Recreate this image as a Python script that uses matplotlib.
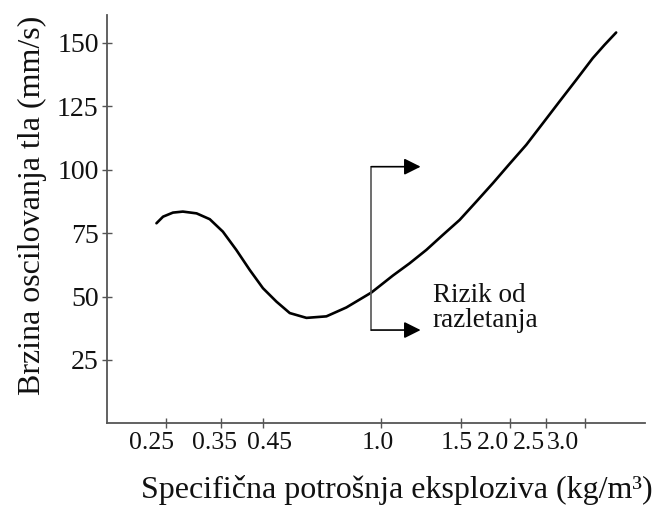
import numpy as np
import matplotlib
matplotlib.use("Agg")
import matplotlib.pyplot as plt
from matplotlib.transforms import ScaledTranslation

# ---- data ----
x_ticks = [0.25, 0.35, 0.45, 1.0, 1.5, 2.0, 2.5, 3.0]
x_tick_labels = ["0.25", "0.35", "0.45", "1.0", "1.5", "2.0", "2.5", "3.0"]
y_ticks = [25, 50, 75, 100, 125, 150]

curve_x = [0.233, 0.245, 0.263, 0.281, 0.306, 0.330, 0.355, 0.387, 0.419,
           0.451, 0.514, 0.576, 0.654, 0.747, 0.840, 0.957, 1.077, 1.181,
           1.286, 1.389, 1.494, 1.660, 1.830, 2.000, 2.229, 2.456, 2.673,
           2.887, 3.100, 3.250, 3.400]
curve_y = [78.9, 81.5, 83.1, 83.5, 82.8, 80.5, 75.6, 68.4, 60.5,
           53.3, 48.0, 43.5, 41.6, 42.2, 45.7, 51.6, 58.3, 63.1,
           68.4, 74.3, 80.2, 87.4, 94.7, 102.3, 109.8, 118.3, 126.9,
           135.4, 144.0, 149.2, 154.1]

bracket_x = 0.957
bracket_top = 101.2
bracket_bottom = 36.8
arrow_end_x = 1.25
annot_text = "Rizik od\nrazletanja"

# ---- non-uniform x axis scale (piecewise, as in the original) ----
scale_vals = np.array([0.0, 0.25, 0.35, 0.45, 1.0, 1.5, 2.0, 2.5, 3.0, 4.0])
scale_pos = np.array([28.5, 166, 221, 263, 381, 461, 510, 546.5, 585.5, 663.5])

def fwd(v):
    return np.interp(v, scale_vals, scale_pos)

def inv(p):
    return np.interp(p, scale_pos, scale_vals)

plt.rcParams['font.family'] = ['Liberation Serif', 'DejaVu Serif']

fig = plt.figure(figsize=(6.6, 5.11), dpi=100)
ax = fig.add_axes([107/660, 1 - 423.4/511, (645 - 107)/660, (423.4 - 15)/511])
ax.set_xscale('function', functions=(fwd, inv))
ax.set_xlim(0.143, 3.77)
ax.set_ylim(0, 161)

ax.plot(curve_x, curve_y, color='black', lw=1.9, solid_capstyle='round',
        solid_joinstyle='round')

# bracket with arrows
gray = '#555555'
ax.plot([bracket_x, bracket_x], [bracket_bottom, bracket_top], color=gray, lw=1.2)
for yy in (bracket_top, bracket_bottom):
    ax.annotate('', xy=(arrow_end_x, yy), xytext=(bracket_x, yy),
                arrowprops=dict(arrowstyle='-|>,head_length=1.0,head_width=0.5',
                                color='black', lw=1.2, shrinkA=0, shrinkB=0))
ax.text(1.325, 45.5, annot_text, fontsize=19.5, va='center', ha='left',
        linespacing=1.05, color='#111111')

ax.set_xticks(x_ticks)
ax.set_xticklabels(x_tick_labels)
ax.set_yticks(y_ticks)
ax.minorticks_off()
ax.tick_params(direction='inout', length=7, width=1.0, colors='#555555',
               labelcolor='#111111', labelsize=18.5, pad=2.5)
ax.tick_params(axis='y', labelsize=20)

# the printed labels sit slightly off their tick marks in the original
label_shift_px = [-14.3, -6.2, 6.8, -3.0, -4.0, -17.0, -17.0, -22.0]
for lab, dx in zip(ax.get_xticklabels(), label_shift_px):
    lab.set_transform(lab.get_transform() +
                      ScaledTranslation(dx / 100.0, 0, fig.dpi_scale_trans))

for s in ('top', 'right'):
    ax.spines[s].set_visible(False)
for s in ('left', 'bottom'):
    ax.spines[s].set_color('#555555')
    ax.spines[s].set_linewidth(1.3)

ax.set_xlabel("Specifična potrošnja eksploziva (kg/m³)", fontsize=23,
              color='#111111')
ax.xaxis.set_label_coords(0.539, -0.183)
ax.xaxis.label.set_va('baseline')
ax.set_ylabel("Brzina oscilovanja tla (mm/s)", fontsize=23, color='#111111')
ax.yaxis.set_label_coords(-0.112, 0.535)

fig.savefig("out.png", dpi=100)
